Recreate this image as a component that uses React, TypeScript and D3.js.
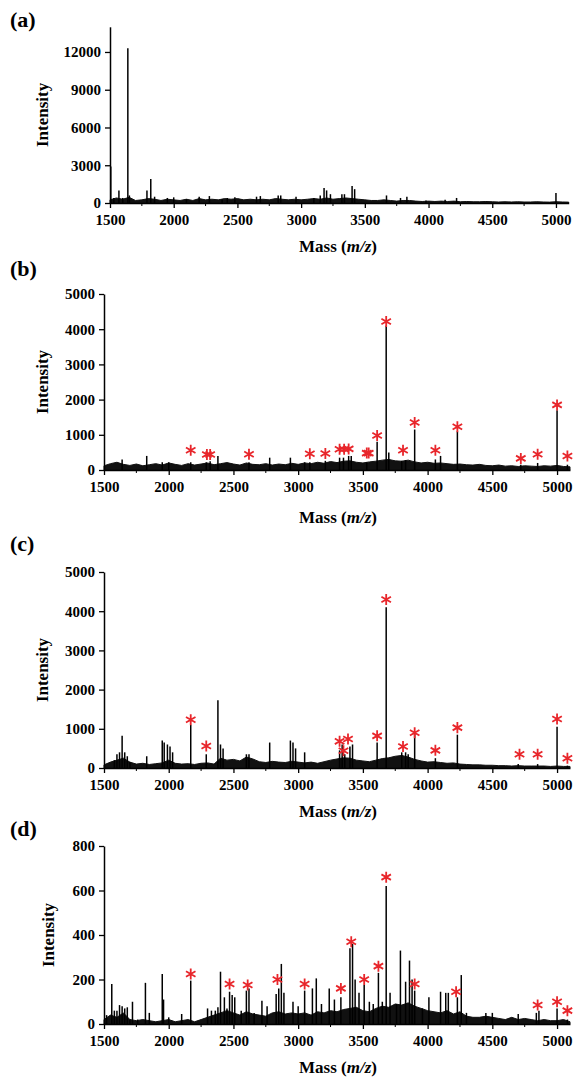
import { useEffect, useRef } from 'react';
import * as d3 from 'd3';

// x ticks shared by all four spectra
const massTicks = [1500, 2000, 2500, 3000, 3500, 4000, 4500, 5000];
const massMinor = [1750, 2250, 2750, 3250, 3750, 4250, 4750];
// noise band is read every 50 Da, 1500 .. 5100
const baseMasses = d3.range(1500, 5101, 50);

// (a)
const yTicksA = [0, 3000, 6000, 9000, 12000];
const baseA = [
  250, 400, 300, 450, 200, 250, 350, 300, 200, 300,
  250, 200, 300, 200, 350, 250, 300, 250, 350, 300,
  350, 250, 300, 250, 300, 250, 350, 300, 250, 300,
  250, 300, 350, 300, 400, 300, 350, 400, 350, 300,
  250, 200, 200, 250, 200, 150, 200, 200, 150, 120,
  150, 120, 150, 120, 150, 100, 120, 100, 100, 120,
  100, 80, 100, 80, 100, 80, 80, 100, 80, 70,
  100, 80, 70,
];
const peaksA: [number, number][] = [
  [1506, 2900], [1530, 400], [1570, 1000], [1600, 400], [1640, 12300], [1652, 600],
  [1790, 1000], [1820, 1900], [1850, 500], [1950, 400], [2000, 450], [2100, 300],
  [2200, 500], [2280, 550], [2380, 300], [2420, 400], [2480, 450], [2650, 500],
  [2680, 550], [2820, 600], [2840, 600], [2960, 500], [3100, 400], [3150, 600],
  [3180, 1200], [3200, 1000], [3230, 700], [3320, 700], [3340, 700], [3400, 1350],
  [3420, 1100], [3670, 600], [3780, 400], [3830, 500], [3980, 200], [4130, 250],
  [4220, 400], [5000, 800],
];
const starsA: [number, number][] = [];

// (b)
const yTicksB = [0, 1000, 2000, 3000, 4000, 5000];
const baseB = [
  120, 180, 220, 160, 130, 170, 120, 150, 180, 140,
  200, 160, 130, 180, 140, 170, 200, 150, 180, 210,
  170, 140, 200, 160, 150, 180, 140, 170, 150, 190,
  160, 200, 180, 220, 190, 240, 210, 250, 260, 220,
  200, 230, 250, 280, 300, 260, 250, 280, 230, 200,
  220, 190, 200, 180, 160, 170, 150, 140, 160, 130,
  120, 140, 110, 120, 100, 120, 110, 100, 120, 110,
  130, 100, 90,
];
const peaksB: [number, number][] = [
  [1640, 300], [1830, 400], [1950, 220], [2000, 220], [2170, 220], [2290, 220],
  [2320, 250], [2380, 400], [2620, 220], [2780, 350], [2940, 350], [3050, 220],
  [3090, 220], [3210, 260], [3320, 350], [3350, 350], [3390, 400], [3410, 400],
  [3530, 220], [3610, 800], [3680, 4100], [3700, 500], [3800, 260], [3830, 280],
  [3900, 1150], [4060, 300], [4100, 400], [4230, 1100], [4720, 150], [4850, 200],
  [5000, 1700], [5080, 150],
];
const starsB: [number, number][] = [
  [2170, 560], [2295, 440], [2320, 440], [2620, 450], [3090, 460], [3210, 470],
  [3320, 590], [3355, 590], [3390, 600], [3530, 480], [3545, 480], [3610, 980],
  [3680, 4220], [3810, 560], [3900, 1350], [4060, 560], [4230, 1230], [4720, 330],
  [4850, 450], [5000, 1850], [5080, 400],
];

// (c)
const yTicksC = [0, 1000, 2000, 3000, 4000, 5000];
const baseC = [
  80, 150, 200, 250, 150, 100, 120, 90, 110, 130,
  200, 120, 100, 110, 90, 120, 130, 100, 250, 200,
  220, 180, 280, 230, 160, 140, 170, 150, 140, 170,
  150, 130, 150, 120, 160, 200, 230, 260, 250, 200,
  180, 160, 200, 240, 260, 300, 320, 280, 220, 180,
  150, 160, 140, 120, 130, 100, 90, 80, 80, 70,
  70, 60, 60, 50, 60, 50, 50, 50, 50, 40,
  50, 40, 40,
];
const peaksC: [number, number][] = [
  [1580, 200], [1600, 350], [1620, 400], [1640, 820], [1660, 400], [1680, 300],
  [1700, 150], [1830, 300], [1950, 700], [1965, 650], [1990, 600], [2010, 550],
  [2030, 400], [2170, 1100], [2290, 350], [2380, 1730], [2400, 600], [2420, 500],
  [2600, 350], [2620, 350], [2780, 650], [2940, 700], [2960, 650], [2980, 500],
  [3050, 400], [3320, 450], [3340, 600], [3360, 350], [3400, 550], [3420, 600],
  [3610, 650], [3680, 4100], [3800, 400], [3830, 400], [3850, 350], [3900, 900],
  [4060, 250], [4230, 850], [4700, 100], [4850, 100], [5000, 1050], [5080, 60],
];
const starsC: [number, number][] = [
  [2170, 1230], [2290, 560], [3320, 680], [3350, 440], [3385, 740], [3610, 820],
  [3680, 4300], [3810, 550], [3900, 900], [4060, 450], [4230, 1030], [4710, 350],
  [4850, 350], [5000, 1250], [5080, 250],
];

// (d)
const yTicksD = [0, 200, 400, 600, 800];
const baseD = [
  20, 40, 30, 50, 20, 15, 20, 15, 10, 15,
  20, 10, 15, 20, 10, 20, 30, 40, 50, 60,
  50, 40, 55, 45, 40, 35, 50, 55, 45, 50,
  45, 50, 40, 55, 50, 60, 55, 65, 70, 75,
  60, 55, 70, 80, 75, 90, 85, 95, 80, 70,
  60, 55, 50, 60, 45, 55, 35, 30, 30, 35,
  30, 25, 20, 30, 20, 25, 20, 15, 20, 15,
  15, 20, 10,
];
const peaksD: [number, number][] = [
  [1520, 40], [1560, 180], [1580, 60], [1600, 60], [1620, 85], [1640, 80],
  [1660, 70], [1680, 75], [1700, 20], [1720, 100], [1760, 20], [1820, 185],
  [1850, 50], [1950, 225], [1960, 110], [2000, 30], [2100, 45], [2170, 195],
  [2300, 70], [2330, 60], [2360, 60], [2380, 75], [2400, 235], [2430, 120],
  [2450, 70], [2470, 145], [2490, 130], [2510, 120], [2560, 60], [2600, 150],
  [2620, 160], [2660, 50], [2720, 105], [2760, 80], [2830, 135], [2850, 160],
  [2870, 270], [2890, 140], [2960, 100], [3000, 80], [3050, 150], [3110, 160],
  [3140, 205], [3180, 90], [3240, 160], [3280, 110], [3330, 120], [3400, 340],
  [3420, 360], [3440, 200], [3470, 140], [3510, 175], [3550, 100], [3580, 90],
  [3620, 230], [3650, 100], [3680, 620], [3710, 140], [3760, 90], [3790, 330],
  [3830, 190], [3860, 285], [3880, 200], [3900, 150], [3960, 70], [4010, 120],
  [4100, 145], [4140, 140], [4160, 140], [4230, 120], [4260, 220], [4300, 50],
  [4450, 50], [4500, 50], [4700, 45], [4840, 50], [4860, 60], [5000, 70], [5080, 20],
];
const starsD: [number, number][] = [
  [2170, 225], [2470, 180], [2610, 175], [2840, 200], [3050, 180], [3330, 160],
  [3410, 370], [3510, 200], [3620, 260], [3680, 660], [3900, 180], [4220, 145],
  [4850, 85], [5000, 100], [5080, 60],
];

const panels = [
  { label: '(a)', yTicks: yTicksA, yMax: 14000, base: baseA, peaks: peaksA, stars: starsA,
    x0: 110, x1: 568.7, zero: 203, top: 26.8, labY: 27, titleX: 42, massY: 252 },
  { label: '(b)', yTicks: yTicksB, yMax: 5000, base: baseB, peaks: peaksB, stars: starsB,
    x0: 104, x1: 570, zero: 470, top: 294, labY: 276, titleX: 42, massY: 523 },
  { label: '(c)', yTicks: yTicksC, yMax: 5000, base: baseC, peaks: peaksC, stars: starsC,
    x0: 104, x1: 570, zero: 768, top: 572, labY: 551, titleX: 42, massY: 817 },
  { label: '(d)', yTicks: yTicksD, yMax: 800, base: baseD, peaks: peaksD, stars: starsD,
    x0: 104, x1: 570, zero: 1024, top: 846, labY: 836, titleX: 48, massY: 1073 },
];

const FONT = '"Liberation Serif", "Times New Roman", serif';

export default function App() {
  const ref = useRef<SVGSVGElement>(null);

  useEffect(() => {
    const svg = d3.select(ref.current);
    svg.selectAll('*').remove();

    panels.forEach((p) => {
      const x = d3.scaleLinear().domain([1500, 5100]).range([p.x0, p.x1]);
      const y = d3.scaleLinear().domain([0, p.yMax]).range([p.zero, p.top]);
      const g = svg.append('g');

      // noise band
      const area = d3
        .area<number>()
        .x((_, i) => x(baseMasses[i]))
        .y0(y(0))
        .y1((d) => y(d));
      g.append('path').attr('d', area(p.base)).attr('fill', '#111').attr('stroke', '#111').attr('stroke-width', 1);

      // peaks
      g.selectAll('line.pk')
        .data(p.peaks)
        .enter()
        .append('line')
        .attr('x1', (d) => x(d[0]))
        .attr('x2', (d) => x(d[0]))
        .attr('y1', y(0))
        .attr('y2', (d) => y(d[1]))
        .attr('stroke', '#000')
        .attr('stroke-width', 1.5);

      // asterisks
      const star = d3.symbol(d3.symbolAsterisk, 85);
      g.selectAll('path.st')
        .data(p.stars)
        .enter()
        .append('path')
        .attr('d', star)
        .attr('transform', (d) => `translate(${x(d[0])},${y(d[1])})`)
        .attr('fill', 'none')
        .attr('stroke', '#e8262b')
        .attr('stroke-width', 1.8);

      // x axis
      const xa = g.append('g').attr('transform', `translate(0,${p.zero})`);
      xa.call(
        d3.axisBottom(x).tickValues(massTicks).tickFormat(d3.format('d')).tickSize(5).tickSizeOuter(0).tickPadding(6),
      );
      xa.selectAll('.minor')
        .data(massMinor)
        .enter()
        .append('line')
        .attr('x1', (d) => x(d))
        .attr('x2', (d) => x(d))
        .attr('y1', 0)
        .attr('y2', 3)
        .attr('stroke', '#000');

      // y axis
      const ya = g.append('g').attr('transform', `translate(${p.x0},0)`);
      ya.call(d3.axisLeft(y).tickValues(p.yTicks).tickFormat(d3.format('d')).tickSize(5).tickSizeOuter(0).tickPadding(4));

      [xa, ya].forEach((a) => {
        a.select('.domain').attr('stroke', '#000').attr('stroke-width', 1.5);
        a.selectAll('.tick line').attr('stroke', '#000').attr('stroke-width', 1.3);
        a.selectAll('text').attr('font-family', FONT).attr('font-weight', 'bold').attr('font-size', 15).attr('fill', '#000');
      });

      // titles
      g.append('text')
        .attr('x', 10)
        .attr('y', p.labY)
        .attr('font-family', FONT)
        .attr('font-weight', 'bold')
        .attr('font-size', 22)
        .text(p.label);

      g.append('text')
        .attr('transform', `translate(${p.titleX + 6},${(p.zero + p.top) / 2}) rotate(-90)`)
        .attr('text-anchor', 'middle')
        .attr('font-family', FONT)
        .attr('font-weight', 'bold')
        .attr('font-size', 17)
        .text('Intensity');

      const mt = g.append('text')
        .attr('x', 338)
        .attr('y', p.massY)
        .attr('text-anchor', 'middle')
        .attr('font-family', FONT)
        .attr('font-weight', 'bold')
        .attr('font-size', 17);
      mt.append('tspan').text('Mass (');
      mt.append('tspan').attr('font-style', 'italic').text('m/z');
      mt.append('tspan').text(')');
    });
  }, []);

  return (
    <div style={{ position: 'absolute', left: 0, top: 0 }}>
      <svg ref={ref} width={575} height={1079} style={{ display: 'block', background: '#fff' }}></svg>
    </div>
  );
}
